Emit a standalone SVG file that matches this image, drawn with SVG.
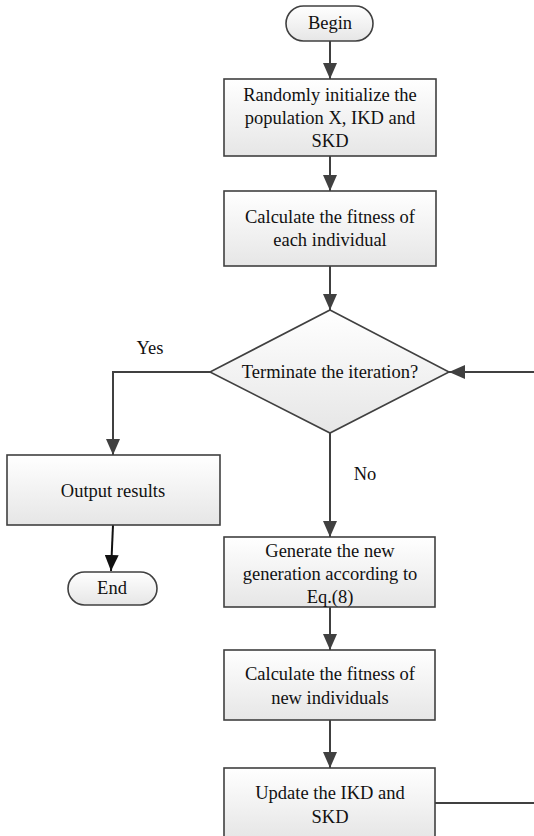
<svg xmlns="http://www.w3.org/2000/svg" width="534" height="836" viewBox="0 0 534 836">
<style>
.n{stroke:#404040;stroke-width:1.6;fill:url(#g)}
.t{font-family:'Liberation Serif','Times New Roman',serif;font-size:18.5px;fill:#111;text-anchor:middle;dominant-baseline:central}
.c{stroke:#404040;stroke-width:2;fill:none}
</style>
<defs>
<linearGradient id="g" x1="0" y1="0" x2="0" y2="1">
<stop offset="0" stop-color="#ffffff"/>
<stop offset="1" stop-color="#e6e6e6"/>
</linearGradient>
<marker id="a" viewBox="0 0 16 14" refX="16" refY="7" markerWidth="16" markerHeight="14" markerUnits="userSpaceOnUse" orient="auto">
<path d="M0,0 L16,7 L0,14 Z" fill="#404040"/>
</marker>
<marker id="ab" viewBox="0 0 16 14" refX="16" refY="7" markerWidth="16" markerHeight="14" markerUnits="userSpaceOnUse" orient="auto">
<path d="M0,0 L16,7 L0,14 Z" fill="#111"/>
</marker>
</defs>
<g id="connectors">
<line class="c" x1="330" y1="41" x2="330" y2="79" marker-end="url(#a)"/>
<line class="c" x1="330" y1="156" x2="330" y2="191" marker-end="url(#a)"/>
<line class="c" x1="330" y1="266" x2="330" y2="310" marker-end="url(#a)"/>
<polyline class="c" points="210,372 113,372 113,455" marker-end="url(#a)"/>
<line class="c" x1="534" y1="372" x2="449" y2="372" marker-end="url(#a)"/>
<line class="c" x1="330" y1="433" x2="330" y2="537" marker-end="url(#a)"/>
<line class="c" x1="330" y1="607" x2="330" y2="650" marker-end="url(#a)"/>
<line class="c" x1="330" y1="720" x2="330" y2="768" marker-end="url(#a)"/>
<line class="c" x1="435" y1="803" x2="534" y2="803"/>
<line x1="113" y1="525" x2="111" y2="571" stroke="#111" stroke-width="2" marker-end="url(#ab)"/>
<text class="t" x="150" y="348">Yes</text>
<text class="t" x="365" y="474">No</text>
</g>
<g id="begin">
<rect class="n" x="286" y="6" width="87" height="35" rx="17.5"/>
<text class="t" x="330" y="23">Begin</text>
</g>
<g id="init">
<rect class="n" x="224" y="79" width="212" height="77"/>
<text class="t" x="330" y="95">Randomly initialize the</text>
<text class="t" x="330" y="118">population X, IKD and</text>
<text class="t" x="330" y="141">SKD</text>
</g>
<g id="fitness1">
<rect class="n" x="224" y="191" width="212" height="75"/>
<text class="t" x="330" y="217">Calculate the fitness of</text>
<text class="t" x="330" y="240">each individual</text>
</g>
<g id="decision">
<polygon class="n" points="330,310 449,372 330,433 210,372"/>
<text class="t" x="330" y="372">Terminate the iteration?</text>
</g>
<g id="output">
<rect class="n" x="7" y="455" width="213" height="70"/>
<text class="t" x="113" y="491">Output  results</text>
</g>
<g id="end">
<rect class="n" x="68" y="572" width="89" height="33" rx="16.5"/>
<text class="t" x="112" y="588">End</text>
</g>
<g id="generate">
<rect class="n" x="224" y="537" width="211" height="70"/>
<text class="t" x="330" y="551">Generate the new</text>
<text class="t" x="330" y="574">generation according to</text>
<text class="t" x="330" y="597">Eq.(8)</text>
</g>
<g id="fitness2">
<rect class="n" x="224" y="650" width="211" height="70"/>
<text class="t" x="330" y="674">Calculate the fitness of</text>
<text class="t" x="330" y="698">new individuals</text>
</g>
<g id="update">
<rect class="n" x="224" y="768" width="211" height="70"/>
<text class="t" x="330" y="793">Update the IKD and</text>
<text class="t" x="330" y="817">SKD</text>
</g>
</svg>
